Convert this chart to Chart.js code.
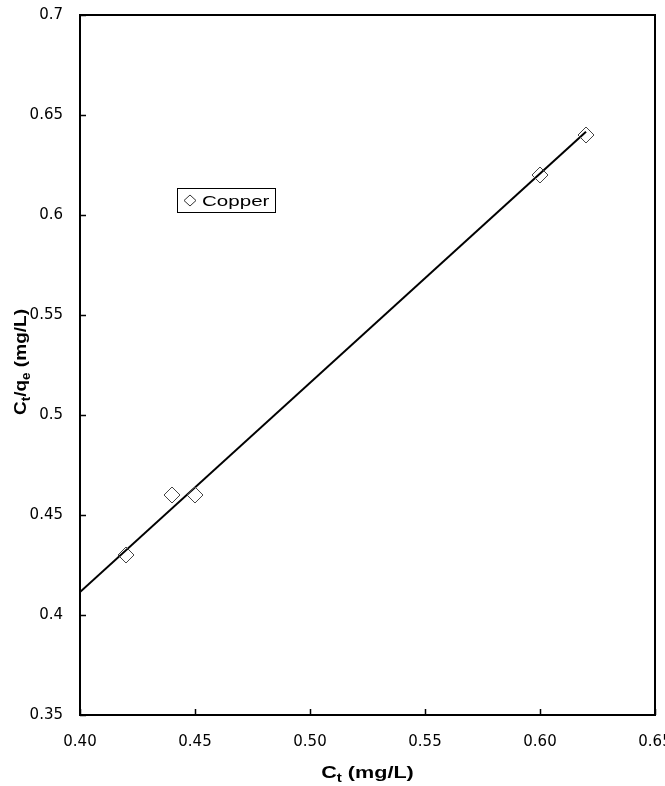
<!DOCTYPE html>
<html>
<head>
<meta charset="utf-8">
<script src="https://cdn.jsdelivr.net/npm/chart.js@4"></script>
<style>
  html, body { margin: 0; padding: 0; background: #fff; overflow: hidden; width: 665px; height: 786px; }
  #wrap { width: 680px; height: 786px; position: relative; }
</style>
</head>
<body>
<div id="wrap"><canvas id="c" width="680" height="786"></canvas></div>
<script>
// ---- data ----
const seriesName = 'Copper';
const ctValues = [0.42, 0.44, 0.45, 0.60, 0.62];
const ctqeValues = [0.43, 0.46, 0.46, 0.62, 0.64];
const fitX = [0.40, 0.62];
const fitY = [0.4115, 0.6416];
const xTickLabels = ['0.40', '0.45', '0.50', '0.55', '0.60', '0.65'];
const yTickLabels = ['0.35', '0.4', '0.45', '0.5', '0.55', '0.6', '0.65', '0.7'];

const FONT = '"Liberation Sans", Arial, sans-serif';
const TICKFONT = '"DejaVu Sans", sans-serif';

const framePlugin = {
  id: 'frame',
  afterDatasetsDraw(chart) {
    const {ctx, chartArea: a, scales} = chart;
    ctx.save();
    ctx.strokeStyle = '#000';
    ctx.lineWidth = 1.5;
    // inside tick marks
    ctx.beginPath();
    scales.x.ticks.forEach(t => {
      const px = Math.round(scales.x.getPixelForValue(t.value)) + 0.5;
      ctx.moveTo(px, a.bottom); ctx.lineTo(px, a.bottom - 6);
    });
    scales.y.ticks.forEach(t => {
      const py = Math.round(scales.y.getPixelForValue(t.value)) + 0.5;
      ctx.moveTo(a.left, py); ctx.lineTo(a.left + 6, py);
    });
    ctx.stroke();
    ctx.lineWidth = 2;
    ctx.strokeRect(a.left, a.top, a.right - a.left, a.bottom - a.top);

    // legend box
    const lx = Math.round(a.left + 0.168 * (a.right - a.left));
    const ly = Math.round(a.top + 0.247 * (a.bottom - a.top));
    const hs = 1.37;
    ctx.font = '15px ' + FONT;
    const tw = ctx.measureText(seriesName).width * hs;
    const bw = Math.round(tw + 31), bh = 24;
    ctx.fillStyle = '#fff';
    ctx.fillRect(lx, ly, bw, bh);
    ctx.lineWidth = 1;
    ctx.strokeStyle = '#000';
    ctx.strokeRect(lx + 0.5, ly + 0.5, bw, bh);
    const dx = lx + 13, dy = ly + bh / 2 + 0.5;
    ctx.beginPath();
    ctx.moveTo(dx, dy - 5.5); ctx.lineTo(dx + 6, dy); ctx.lineTo(dx, dy + 5.5); ctx.lineTo(dx - 6, dy); ctx.closePath();
    ctx.strokeStyle = '#333';
    ctx.stroke();
    ctx.fillStyle = '#000';
    ctx.textBaseline = 'middle';
    ctx.textAlign = 'left';
    ctx.save();
    ctx.translate(lx + 25, dy + 1);
    ctx.scale(hs, 1);
    ctx.fillText(seriesName, 0, 0);
    ctx.restore();

    // axis titles with subscripts
    const drawSub = (parts, cx, cy, sx, sy) => {
      const big = 'bold 17px ' + FONT, small = 'bold 12px ' + FONT;
      let w = 0;
      parts.forEach(p => { ctx.font = p.sub ? small : big; w += ctx.measureText(p.t).width; });
      ctx.save();
      ctx.translate(cx, cy);
      ctx.scale(sx, sy);
      let x = -w / 2;
      ctx.textAlign = 'left';
      ctx.textBaseline = 'alphabetic';
      parts.forEach(p => {
        ctx.font = p.sub ? small : big;
        ctx.fillText(p.t, x, p.sub ? 4 : 0);
        x += ctx.measureText(p.t).width;
      });
      ctx.restore();
    };
    ctx.fillStyle = '#000';
    drawSub([{t:'C'},{t:'t',sub:true},{t:' (mg/L)'}], (a.left + a.right) / 2, 778, 1.27, 1);
    ctx.save();
    ctx.translate(26, 362);
    ctx.rotate(-Math.PI / 2);
    drawSub([{t:'C'},{t:'t',sub:true},{t:'/q'},{t:'e',sub:true},{t:' (mg/L)'}], 0, 0, 1.12, 1);
    ctx.restore();
    ctx.restore();
  }
};

new Chart(document.getElementById('c'), {
  type: 'scatter',
  data: {
    datasets: [
      {
        label: seriesName,
        data: ctValues.map((x, i) => ({x, y: ctqeValues[i]})),
        pointStyle: 'rectRot',
        pointRadius: 8,
        pointBackgroundColor: 'rgba(255,255,255,0)',
        pointBorderColor: '#444',
        pointBorderWidth: 1,
        showLine: false,
        order: 1
      },
      {
        label: 'fit',
        data: fitX.map((x, i) => ({x, y: fitY[i]})),
        showLine: true,
        borderColor: '#000',
        borderWidth: 2,
        pointRadius: 0,
        order: 2
      }
    ]
  },
  options: {
    responsive: false,
    animation: false,
    devicePixelRatio: 1,
    layout: { padding: { top: 15, right: 25, left: 0, bottom: 0 } },
    plugins: { legend: { display: false }, tooltip: { enabled: false } },
    scales: {
      x: {
        type: 'linear', min: 0.40, max: 0.65,
        afterBuildTicks(s) { s.ticks = xTickLabels.map(v => ({value: parseFloat(v)})); },
        afterFit(s) { s.height = 71; s.paddingLeft = 0; s.paddingRight = 0; },
        grid: { display: false, drawTicks: false },
        border: { display: false },
        ticks: {
          padding: 18, color: '#000', font: { family: TICKFONT, size: 15 },
          maxRotation: 0, autoSkip: false,
          callback: (v, i) => xTickLabels[i]
        }
      },
      y: {
        type: 'linear', min: 0.35, max: 0.70,
        afterBuildTicks(s) { s.ticks = yTickLabels.map(v => ({value: parseFloat(v)})); },
        afterFit(s) { s.width = 80; s.paddingTop = 0; s.paddingBottom = 0; },
        grid: { display: false, drawTicks: false },
        border: { display: false },
        ticks: {
          padding: 17, color: '#000', font: { family: TICKFONT, size: 15 },
          autoSkip: false,
          callback: (v, i) => yTickLabels[i]
        }
      }
    }
  },
  plugins: [framePlugin]
});
</script>
</body>
</html>
